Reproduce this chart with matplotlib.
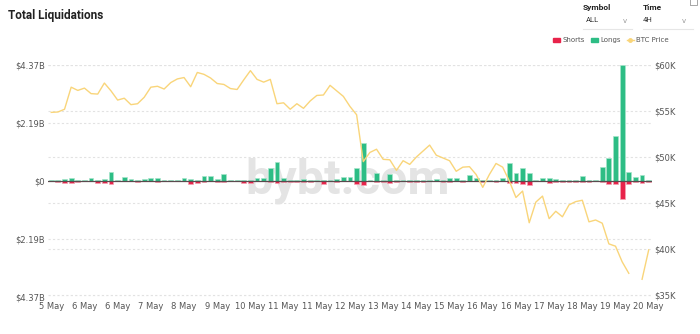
import matplotlib.pyplot as plt
import numpy as np
from matplotlib.lines import Line2D
from matplotlib.patches import Patch, Rectangle

# Data (4H candles, 5 May -> 20 May)
longs = [0.05, 0.03, 0.075, 0.11, 0.04, 0.05, 0.1, 0.02, 0.075, 0.34,
         0.05, 0.15, 0.06, 0.04, 0.06, 0.125, 0.11, 0.02, 0.03, 0.02,
         0.125, 0.06, 0.04, 0.18, 0.19, 0.075, 0.25, 0.02, 0.02, 0.02,
         0.02, 0.125, 0.1, 0.48, 0.72, 0.1, 0.02, 0.02, 0.075, 0.02,
         0.02, 0.02, 0.04, 0.075, 0.14, 0.16, 0.49, 1.42, 0.03, 0.3,
         0.05, 0.26, 0.03, 0.02, 0.02, 0.02, 0.02, 0.05, 0.075, 0.04,
         0.125, 0.11, 0.05, 0.21, 0.11, 0.02, 0.02, 0.02, 0.1, 0.69,
         0.29, 0.49, 0.31, 0.02, 0.1, 0.125, 0.06, 0.02, 0.02, 0.02,
         0.18, 0.05, 0.03, 0.52, 0.87, 1.7, 4.37, 0.33, 0.15, 0.23, 0.03]
shorts = [0.01, 0.05, 0.06, 0.075, 0.03, 0.01, 0.01, 0.06, 0.09, 0.13,
          0.01, 0.01, 0.01, 0.02, 0.01, 0.01, 0.03, 0.01, 0.01, 0.01,
          0.01, 0.11, 0.075, 0.02, 0.01, 0.02, 0.02, 0.01, 0.01, 0.06,
          0.06, 0.01, 0.01, 0.02, 0.06, 0.02, 0.03, 0.02, 0.05, 0.02,
          0.01, 0.1, 0.01, 0.02, 0.01, 0.01, 0.1, 0.15, 0.01, 0.03,
          0.05, 0.06, 0.02, 0.01, 0.03, 0.05, 0.03, 0.01, 0.01, 0.02,
          0.02, 0.01, 0.02, 0.01, 0.01, 0.02, 0.01, 0.02, 0.01, 0.08,
          0.06, 0.1, 0.14, 0.01, 0.01, 0.08, 0.02, 0.03, 0.02, 0.03,
          0.04, 0.05, 0.01, 0.02, 0.13, 0.13, 0.66, 0.11, 0.05, 0.09, 0.04]
btc_price = [54.86, 54.9, 55.2, 57.6, 57.25, 57.5, 56.9, 56.85, 58.05, 57.2,
             56.2, 56.4, 55.7, 55.8, 56.5, 57.6, 57.7, 57.4, 58.1, 58.5,
             58.65, 57.65, 59.2, 59.0, 58.6, 58.0, 57.9, 57.45, 57.35, 58.4,
             59.4, 58.45, 58.15, 58.45, 55.8, 55.9, 55.2, 55.8, 55.3, 56.1,
             56.7, 56.75, 57.8, 57.2, 56.6, 55.5, 54.6, 49.5, 50.5, 50.85,
             49.75, 49.7, 48.55, 49.6, 49.2, 50.0, 50.65, 51.3, 50.2, 49.9,
             49.6, 48.45, 48.9, 48.95, 48.1, 46.7, 48.1, 49.3, 48.9, 47.4,
             45.6, 46.3, 42.85, 45.1, 45.75, 43.3, 44.1, 43.5, 44.8, 45.15,
             45.3, 42.95, 43.15, 42.8, 40.55, 40.3, 38.6, 37.35, np.nan, 36.7, 39.9]
date_labels = ['5 May', '6 May', '6 May', '7 May', '8 May', '9 May', '10 May',
               '11 May', '11 May', '12 May', '13 May', '14 May', '15 May',
               '16 May', '16 May', '17 May', '18 May', '19 May', '20 May']
left_ticks = [-4.37, -2.19, 0, 2.19, 4.37]
left_labels = ['$4.37B', '$2.19B', '$0', '$2.19B', '$4.37B']
right_ticks = [35, 40, 45, 50, 55, 60]

GREEN = '#2dbd85'
RED = '#e8234a'
YELLOW = '#f9d57a'
GRID = '#e2e2e2'
TXT = '#555555'

x = np.arange(len(longs))
fig = plt.figure(figsize=(7, 3.34), dpi=100)
ax = fig.add_axes([0.068, 0.111, 0.863, 0.694])

# watermark
ax.text(0.497, 0.42, 'bybt.com', transform=fig.transFigure, ha='center',
        va='baseline', fontsize=35, fontweight='bold', color='#e4e4e4',
        family='Roboto', zorder=0.5)

ax.bar(x, longs, width=0.72, color=GREEN, edgecolor='#a6e5cb', linewidth=0.5, zorder=2)
ax.bar(x, -np.array(shorts), width=0.72, color=RED, edgecolor='#f4a3b3', linewidth=0.5, zorder=2)
ax.axhline(0, color='#5a4a4e', lw=0.9, zorder=3)

ax.set_xlim(-0.55, 90.45)
ax.set_ylim(-4.37, 4.37)
ax.set_yticks(left_ticks)
ax.set_yticklabels(left_labels)
ax.set_xticks(x[::5])
ax.set_xticklabels(date_labels)
for t in left_ticks:
    if t != 0:
        ax.axhline(t, color=GRID, lw=0.8, ls=(0, (2, 2)), zorder=0)

ax2 = ax.twinx()
ax2.plot(x, btc_price, color=YELLOW, lw=1.0, zorder=4)
ax2.set_ylim(34.78, 60)
ax2.set_yticks(right_ticks)
ax2.set_yticklabels(['$%dK' % v for v in right_ticks])
for t in right_ticks:
    ax.axhline((t - 34.78) / (60 - 34.78) * 8.74 - 4.37, color=GRID, lw=0.8,
               ls=(0, (2, 2)), zorder=0)

for a in (ax, ax2):
    for s in a.spines.values():
        s.set_visible(False)
    a.tick_params(length=0, labelsize=6, labelcolor=TXT, pad=2)
ax.tick_params(axis='x', pad=4)

# header
fig.text(0.012, 0.953, 'Total Liquidations', fontsize=8.5, fontweight='bold',
         color='#222222', va='center', family='Roboto')
fig.text(0.833, 0.978, 'Symbol', fontsize=6, fontweight='bold', color='#222222',
         va='center', family='Roboto')
fig.text(0.918, 0.978, 'Time', fontsize=6, fontweight='bold', color='#222222',
         va='center', family='Roboto')
fig.text(0.837, 0.94, 'ALL', fontsize=5.5, color='#333333', va='center', family='Roboto')
fig.text(0.918, 0.94, '4H', fontsize=5.5, color='#333333', va='center', family='Roboto')
fig.text(0.889, 0.938, 'v', fontsize=5, color='#999999', va='center')
fig.text(0.974, 0.938, 'v', fontsize=5, color='#999999', va='center')
fig.add_artist(Line2D([0.833, 0.903], [0.912, 0.912], color='#e6e6e6', lw=0.8))
fig.add_artist(Line2D([0.918, 0.99], [0.912, 0.912], color='#e6e6e6', lw=0.8))
fig.add_artist(Rectangle((0.985, 0.985), 0.01, 0.02, fill=False, ec='#999999', lw=0.6))

handles = [Patch(color=RED), Patch(color=GREEN),
           Line2D([0], [0], color=YELLOW, lw=1, marker='o', markersize=2.5)]
fig.legend(handles, ['Shorts', 'Longs', 'BTC Price'], loc='center',
           bbox_to_anchor=(0.873, 0.88), ncol=3, frameon=False, fontsize=5,
           handlelength=1.0, handleheight=0.5, handletextpad=0.4,
           columnspacing=0.8, labelcolor=TXT)

fig.savefig('out.png', dpi=100, facecolor='white')
